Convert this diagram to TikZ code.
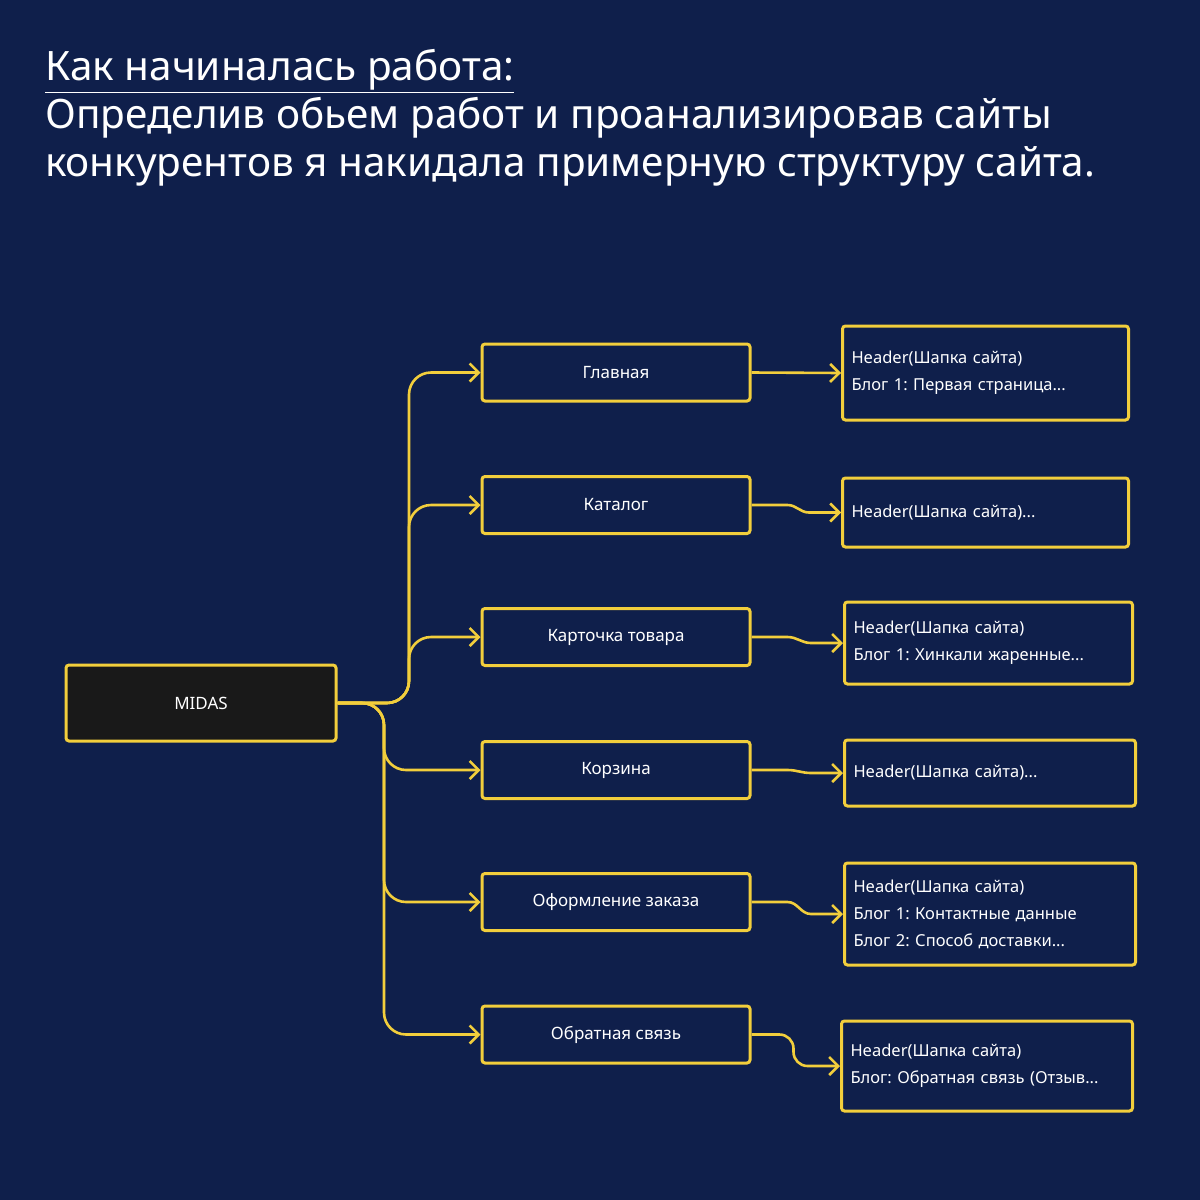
\documentclass[tikz,border=0pt]{standalone}
\usepackage{fontspec}
\setmainfont{Noto Sans}
\usetikzlibrary{calc,arrows.meta}
\definecolor{bg}{HTML}{0F1F4B}
\definecolor{yl}{HTML}{F2CE3C}
\frenchspacing
\begin{document}
\begin{tikzpicture}[x=1pt,y=-1pt,
 box/.style={draw=yl,line width=3pt,rounded corners=3pt,fill=bg,text=white,font=\fontsize{17}{20}\selectfont},
 rbox/.style={box,align=left,font=\fontsize{16.5}{27}\selectfont,inner xsep=9pt},
 con/.style={draw=yl,line width=2.6pt,rounded corners=22pt,->,>={Straight Barb[length=9pt,width=18pt]}},
 con2/.style={draw=yl,line width=2.6pt,->,>={Straight Barb[length=9pt,width=18pt]}}]
\fill[bg] (0,0) rectangle (1200,1200);
\useasboundingbox (0,0) rectangle (1200,1200);
\node[anchor=west,text=white,font=\fontsize{40.5}{48}\selectfont,align=left,inner sep=0] (title) at (45,118)
 {\underline{Как начиналась работа:}\\Определив обьем работ и проанализировав сайты\\конкурентов я накидала примерную структуру сайта.};
\node[box,fill=black!90,minimum width=270pt,minimum height=76pt] (m) at (201,703) {MIDAS};
\foreach \n/\y/\t in {a/372.5/Главная,b/505/Каталог,c/637/Карточка товара,d/770/Корзина,e/902/Оформление заказа,f/1034.5/Обратная связь}
 \node[box,minimum width=268pt,minimum height=57pt] (\n) at (616,\y) {\t};
\node[rbox,anchor=west,text width=268pt,minimum height=94pt] (ra) at (841,373) {Header(Шапка сайта)\\Блог 1: Первая страница...};
\node[rbox,anchor=west,text width=268pt,minimum height=69pt] (rb) at (841,512.5) {Header(Шапка сайта)...};
\node[rbox,anchor=west,text width=270pt,minimum height=82pt] (rc) at (843,643) {Header(Шапка сайта)\\Блог 1: Хинкали жаренные...};
\node[rbox,anchor=west,text width=273pt,minimum height=66pt] (rd) at (843,773) {Header(Шапка сайта)...};
\node[rbox,anchor=west,text width=273pt,minimum height=102pt] (re) at (843,914) {Header(Шапка сайта)\\Блог 1: Контактные данные\\Блог 2: Способ доставки...};
\node[rbox,anchor=west,text width=273pt,minimum height=90pt] (rf) at (840,1066) {Header(Шапка сайта)\\Блог: Обратная связь (Отзыв...};
\foreach \n in {a,b,c} \draw[con] (m.east) -- (409,703) |- (\n.west);
\foreach \n in {d,e,f} \draw[con] (m.east) -- (384,703) |- (\n.west);
\draw[con2] (a.east) -- (ra.west);
\foreach \n/\r in {b/rb,c/rc,d/rd,e/re} \draw[con2] (\n.east) -- ++(36,0) to[out=0,in=180] ($(\r.west)+(-32,0)$) -- (\r.west);
\draw[con2,rounded corners=14pt] (f.east) -- ++(42,0) |- (rf.west);
\end{tikzpicture}
\end{document}
